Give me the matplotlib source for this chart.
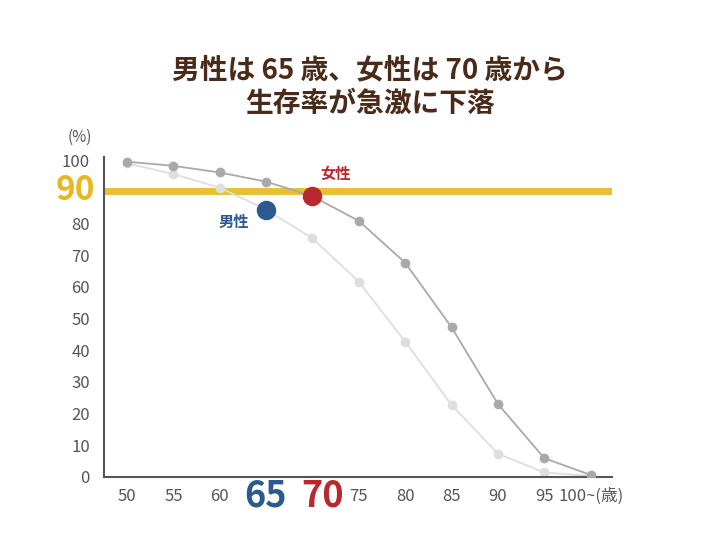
import matplotlib.pyplot as plt

plt.rcParams["font.family"] = ["Noto Sans CJK JP", "DejaVu Sans"]

ages = [50, 55, 60, 65, 70, 75, 80, 85, 90, 95, 100]
xlabels = ["50", "55", "60", "", "", "75", "80", "85", "90", "95", "100~(歳)"]
yticks = [0, 10, 20, 30, 40, 50, 60, 70, 80, 90, 100]
ylabels = ["0", "10", "20", "30", "40", "50", "60", "70", "80", "", "100"]
female = [99.5, 98.2, 96.1, 93.2, 88.6, 80.8, 67.6, 47.2, 23.0, 5.9, 0.6]
male = [99.0, 95.6, 91.3, 84.4, 75.3, 61.6, 42.7, 22.7, 7.3, 1.4, 0.3]
line90 = 90.3

fig = plt.figure(figsize=(7.26, 5.45), dpi=100)
ax = fig.add_axes([0.143, 0.125, 0.7, 0.587])
ax.plot(ages, male, color="#dedede", lw=1.3, marker="o", ms=6, zorder=2)
ax.plot(ages, female, color="#a9a9a9", lw=1.3, marker="o", ms=6, zorder=3)
ax.axhline(line90, color="#e8c032", lw=5, zorder=1)
ax.plot(65, male[3], "o", color="#2d5a8e", ms=13, zorder=5)
ax.plot(70, female[4], "o", color="#b9282e", ms=13, zorder=5)
ax.text(61.5, 80.5, "男性", color="#2d5a8e", fontsize=11, fontweight="bold", ha="center", va="center")
ax.text(72.5, 95.5, "女性", color="#b9282e", fontsize=11, fontweight="bold", ha="center", va="center")

ax.set_xlim(47.5, 102.3)
ax.set_ylim(0, 101)
ax.set_yticks(yticks)
ax.set_yticklabels(ylabels)
ax.set_xticks(ages)
ax.set_xticklabels(xlabels)
ax.tick_params(length=0, colors="#555555", labelsize=12, pad=8)
ax.tick_params(axis="y", pad=10)
for s in ["top", "right"]:
    ax.spines[s].set_visible(False)
for s in ["left", "bottom"]:
    ax.spines[s].set_color("#555555")
    ax.spines[s].set_linewidth(1.5)

fig.text(0.11, 1 - 137 / 545, "(%)", color="#555555", fontsize=11, ha="center", va="center")
fig.text(75 / 726, 1 - 190 / 545, "90", color="#e8b820", fontsize=24, fontweight="bold", ha="center", va="center")
fig.text(265 / 726, 1 - 496 / 545, "65", color="#2d5a8e", fontsize=26, fontweight="bold", ha="center", va="center")
fig.text(323 / 726, 1 - 496 / 545, "70", color="#b9282e", fontsize=26, fontweight="bold", ha="center", va="center")
fig.text(0.51, 1 - 87 / 545, "男性は 65 歳、女性は 70 歳から\n生存率が急激に下落", color="#4a2a18",
         fontsize=20, fontweight="bold", ha="center", va="center", linespacing=1.2)

fig.savefig("out.png", dpi=100, facecolor="white")
